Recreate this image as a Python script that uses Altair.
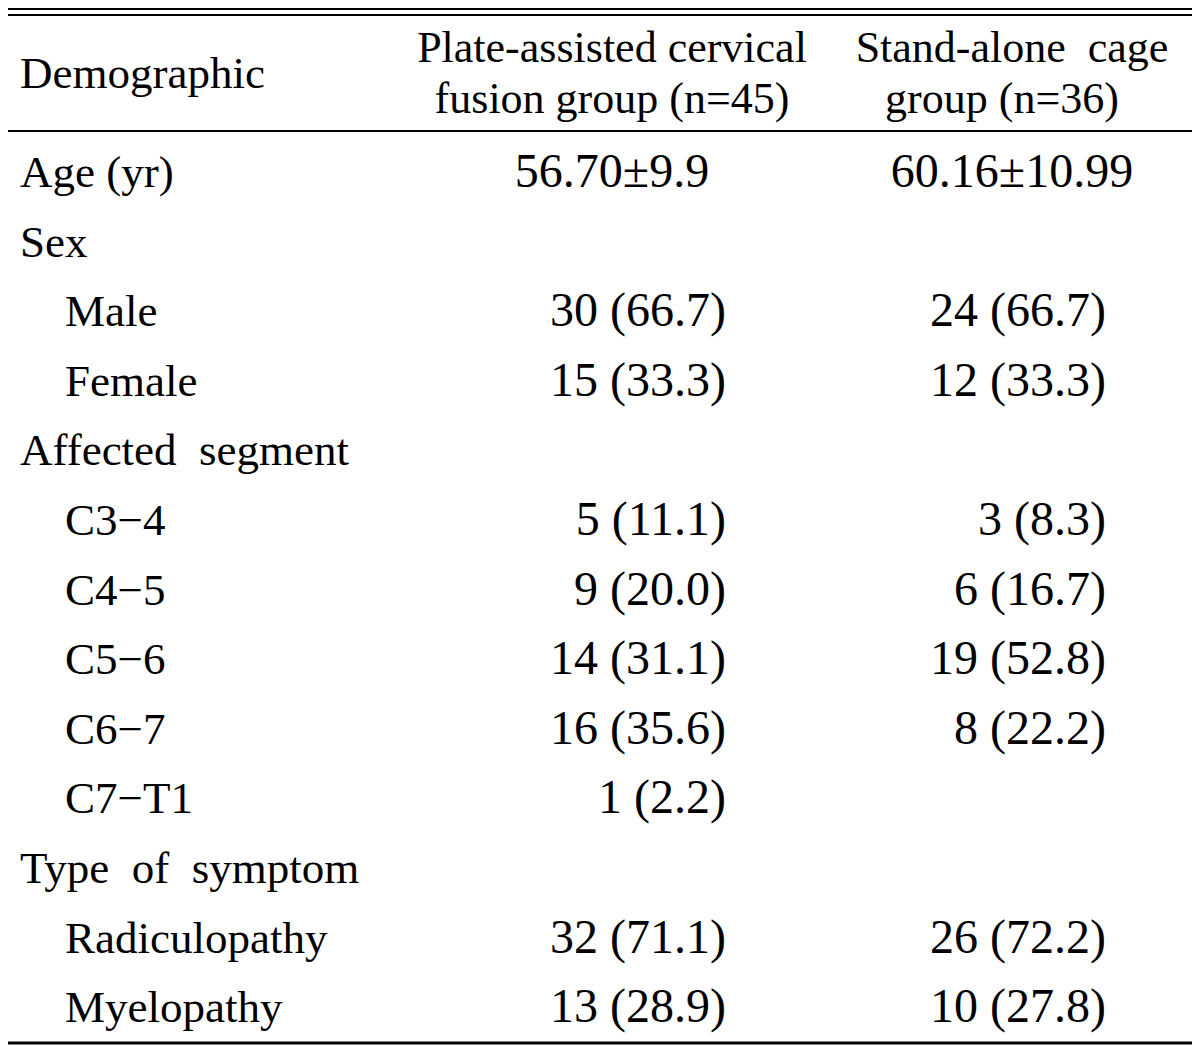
import altair as alt
import pandas as pd

# ---- table content ----
labels = ["Age (yr)", "Sex", "Male", "Female", "Affected\u00a0 segment",
          "C3\u22124", "C4\u22125", "C5\u22126", "C6\u22127", "C7\u2212T1",
          "Type\u00a0 of\u00a0 symptom", "Radiculopathy", "Myelopathy"]
indent = [0, 0, 1, 1, 0, 1, 1, 1, 1, 1, 0, 1, 1]
plate = ["56.70\u00b19.9", "", "30 (66.7)", "15 (33.3)", "", "5 (11.1)", "9 (20.0)",
         "14 (31.1)", "16 (35.6)", "1 (2.2)\u2007", "", "32 (71.1)", "13 (28.9)"]
cage = ["60.16\u00b110.99", "", "24 (66.7)", "12 (33.3)", "", "3 (8.3)\u2007", "6 (16.7)",
        "19 (52.8)", "8 (22.2)", "", "", "26 (72.2)", "10 (27.8)"]

header_col0 = ["Demographic"]
header_col1 = ["Plate-assisted cervical", "fusion group (n=45)"]
header_col2 = ["Stand-alone\u00a0 cage", "group (n=36)"]

rows = list(range(len(labels)))
body = pd.DataFrame({"row": rows, "label": labels, "indent": indent,
                     "plate": plate, "cage": cage})

# header rows expressed in row units (above the first body row)
hdr0 = pd.DataFrame({"row": [-1.422], "text": header_col0})
hdr1 = pd.DataFrame({"row": [-1.796, -1.063], "text": header_col1})
hdr2a = pd.DataFrame({"row": [-1.796], "text": header_col2[:1]})
hdr2b = pd.DataFrame({"row": [-1.063], "text": header_col2[1:]})

W, H = 1184, 1040
ROW_H = 69.6
r0 = -179.0 / ROW_H
r1 = r0 + H / ROW_H

FONT = "Liberation Serif"
LSIZE = 45
HSIZE = 44
NSIZE = 48

yenc = alt.Y("row:Q", scale=alt.Scale(domain=[r0, r1], reverse=True, nice=False, zero=False), axis=None)


def txt(df, x, align, size, field="text"):
    return alt.Chart(df).mark_text(
        font=FONT, fontSize=size, align=align, baseline="alphabetic", color="#000"
    ).encode(x=alt.value(x), y=yenc, text=f"{field}:N")


body_chart = alt.Chart(body)

lab_top = body_chart.transform_filter("datum.indent == 0").mark_text(
    font=FONT, fontSize=LSIZE, align="left", baseline="alphabetic", color="#000"
).encode(x=alt.value(12), y=yenc, text="label:N")
lab_ind = body_chart.transform_filter("datum.indent == 1").mark_text(
    font=FONT, fontSize=LSIZE, align="left", baseline="alphabetic", color="#000"
).encode(x=alt.value(57), y=yenc, text="label:N")

p_age = body_chart.transform_filter("datum.row == 0").mark_text(
    font=FONT, fontSize=NSIZE, align="center", baseline="alphabetic", color="#000"
).encode(x=alt.value(604), y=yenc, text="plate:N")
c_age = body_chart.transform_filter("datum.row == 0").mark_text(
    font=FONT, fontSize=NSIZE, align="center", baseline="alphabetic", color="#000"
).encode(x=alt.value(1004), y=yenc, text="cage:N")
p_val = body_chart.transform_filter("datum.row > 0").mark_text(
    font=FONT, fontSize=NSIZE, align="right", baseline="alphabetic", color="#000"
).encode(x=alt.value(718), y=yenc, text="plate:N")
c_val = body_chart.transform_filter("datum.row > 0").mark_text(
    font=FONT, fontSize=NSIZE, align="right", baseline="alphabetic", color="#000"
).encode(x=alt.value(1098), y=yenc, text="cage:N")

h0 = txt(hdr0, 12, "left", LSIZE)
h1 = txt(hdr1, 604, "center", HSIZE)
h2a = txt(hdr2a, 1004, "center", HSIZE)
h2b = txt(hdr2b, 994, "center", HSIZE)


def hline(y, w):
    return alt.Chart(pd.DataFrame({"k": [0]})).mark_rule(color="#000", strokeWidth=w).encode(
        x=alt.value(0), x2=alt.value(W), y=alt.value(y)
    )


rules = [hline(1, 2), hline(7, 2), hline(123, 2), hline(1035, 3)]

chart = alt.layer(
    *rules, h0, h1, h2a, h2b, lab_top, lab_ind, p_age, c_age, p_val, c_val
).properties(
    width=W, height=H, autosize="none", padding=0, background="white"
).configure_view(stroke=None)

chart.save("out.html", embed_options={"renderer": "svg", "actions": False})
